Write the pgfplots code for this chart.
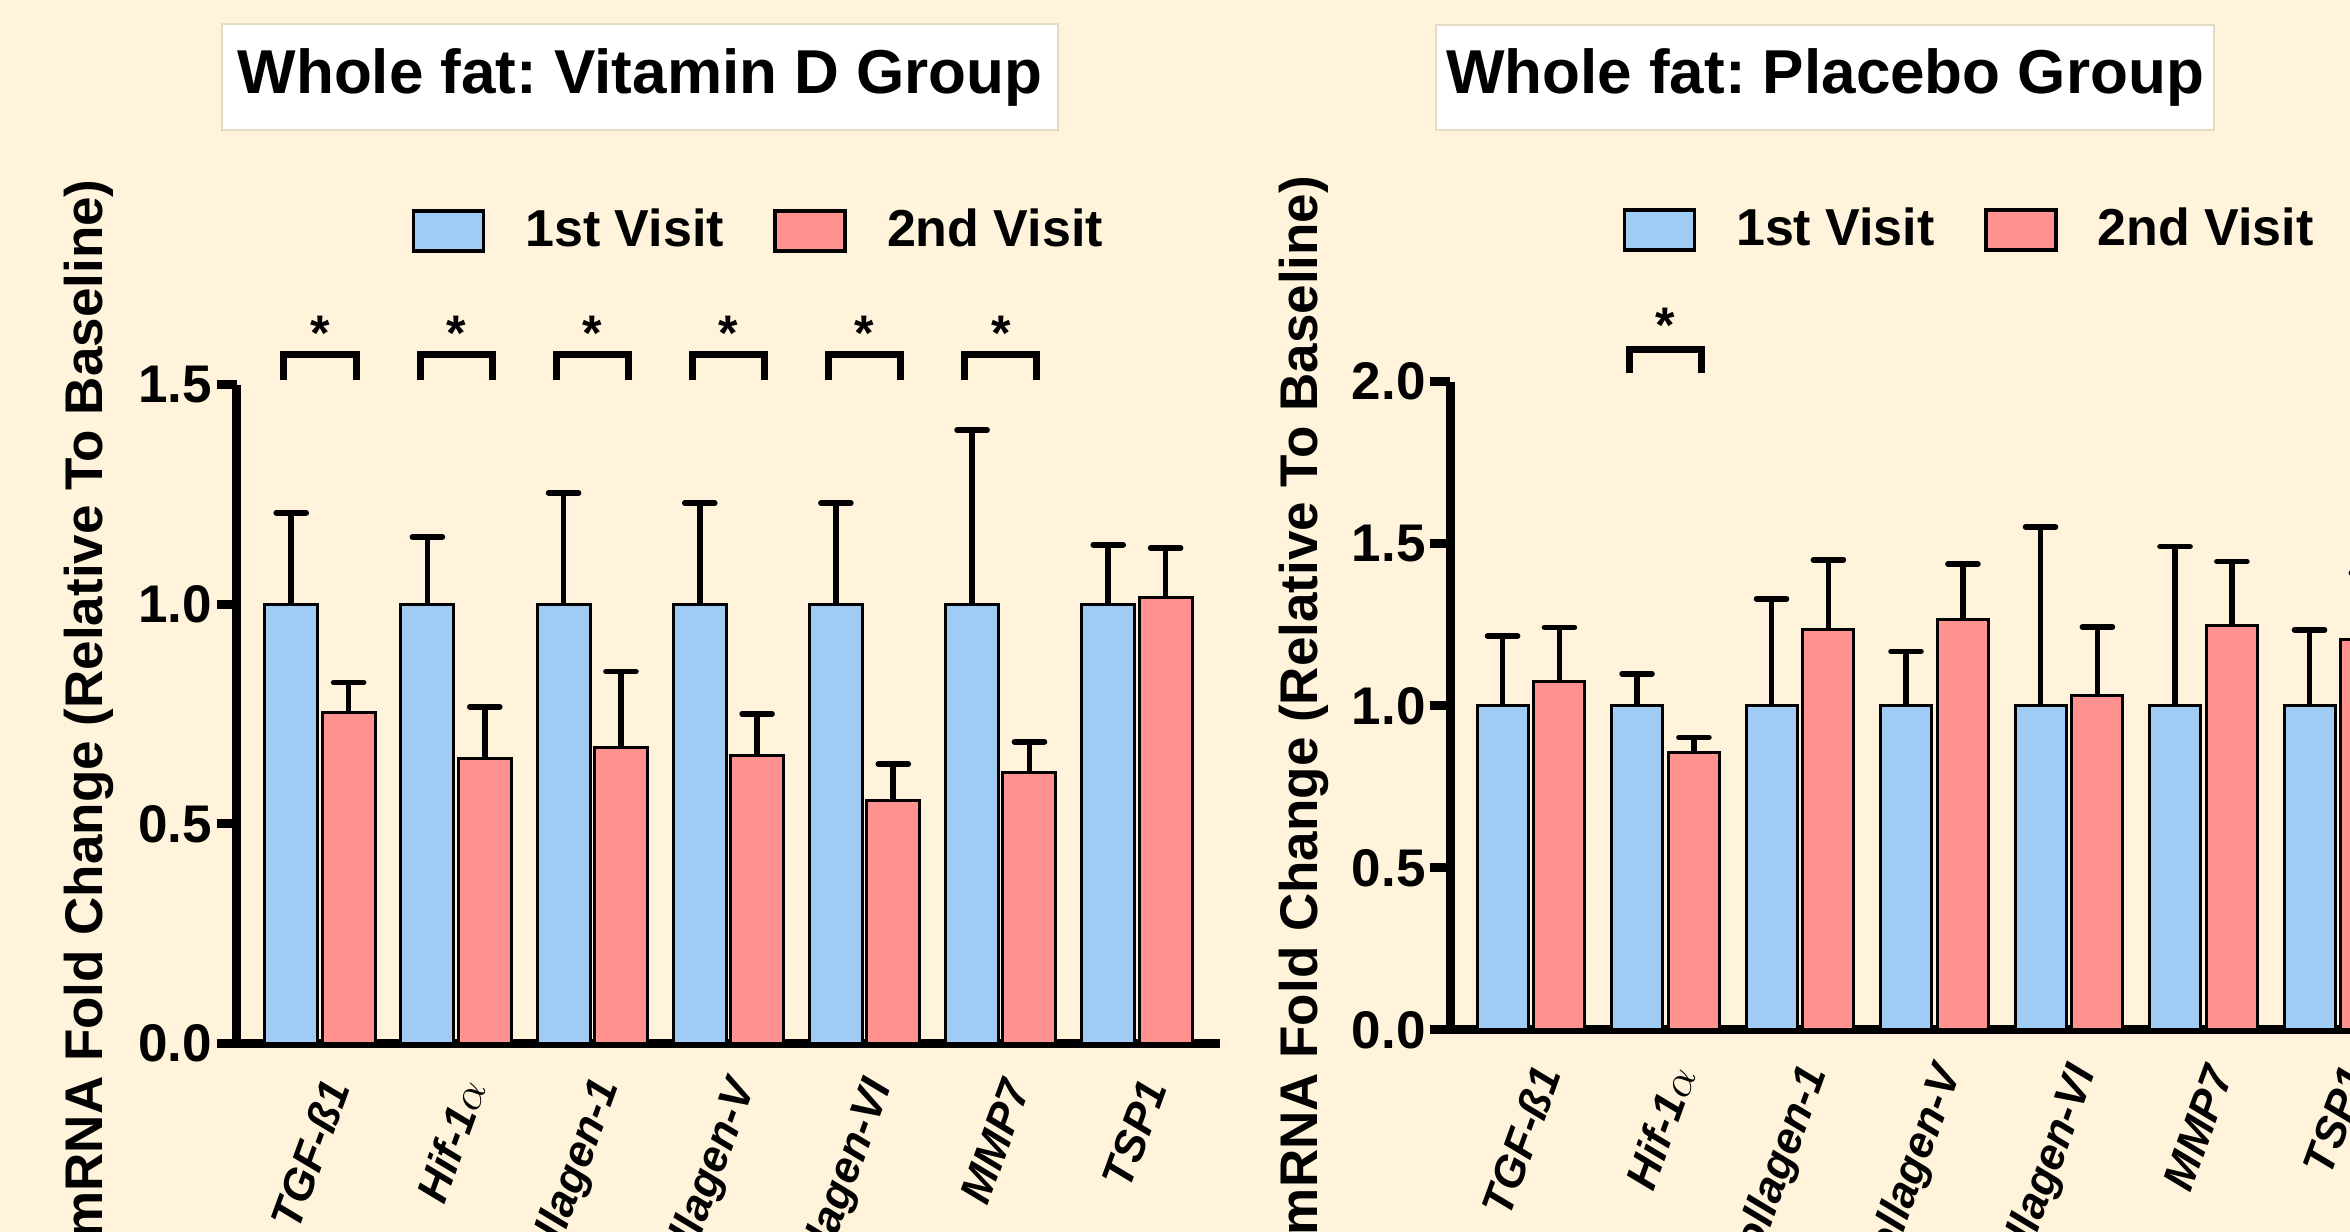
\documentclass[border=0pt]{standalone}
\usepackage{fontspec}
\setmainfont{Liberation Sans}
\usepackage{pgfplots}
\pgfplotsset{compat=1.18}
\frenchspacing
\definecolor{bg}{RGB}{255,244,219}
\definecolor{barblue}{RGB}{160,203,245}
\definecolor{barred}{RGB}{255,146,142}
\definecolor{boxedge}{RGB}{228,218,198}

\pgfplotsset{
  mystyle/.style={
    scale only axis,
    clip=false,
    axis x line*=bottom, axis y line*=left,
    axis line style={-, line width=2.25pt, black},
    every outer x axis line/.append style={-},
    every outer y axis line/.append style={-},
    ymin=0,
    xtick={0,...,6},
    xticklabels={TGF-ß1, Hif-1$\alpha$, Collagen-1, Collagen-V, Collagen-VI, MMP7, TSP1},
    x tick style={draw=none},
    y tick style={line width=2.25pt, black},
    major tick length=5pt,
    tick align=outside,
    /pgf/number format/fixed,
    /pgf/number format/fixed zerofill,
    /pgf/number format/precision=1,
    /pgf/number format/assume math mode=true,
    yticklabel style={font=\bfseries\fontsize{13.25}{15}\selectfont, inner sep=1pt},
    xticklabel style={xshift=4.5pt, yshift=-3.5pt, rotate=70, anchor=east, font=\bfseries\itshape\fontsize{11}{13}\selectfont, inner sep=1pt},
    ylabel={mRNA Fold Change (Relative To Baseline)},
    ylabel style={anchor=south, inner sep=0pt, font=\bfseries\fontsize{13.25}{15}\selectfont},
    every axis title shift=0pt,
    title style={anchor=center, fill=white, draw=boxedge, line width=0.5pt, inner sep=0pt, font=\bfseries\fontsize{15.5}{18}\selectfont},
    legend columns=2,
    legend style={draw=none, fill=none, inner sep=0pt, anchor=west,
      font=\bfseries\fontsize{13}{15}\selectfont,
      /tikz/every odd column/.append style={column sep=8pt},
      /tikz/every even column/.append style={column sep=10.4pt}},
    legend image code/.code={\draw[#1, line width=0.9pt] (0pt,-5pt) rectangle (17.5pt,5pt);},
  },
  errstyle/.style={
    error bars/.cd, y dir=plus, y explicit,
    error bar style={line width=1.4pt, black},
    error mark options={rotate=90, line width=1.4pt, mark size=3.75pt, black, line cap=round}},
}

\begin{document}
\begin{tikzpicture}
\useasboundingbox (0,0) rectangle (587.5pt,308pt);
\clip (0,0) rectangle (587.5pt,308pt);
\fill[bg] (0,0) rectangle (587.5pt,308pt);

% Left panel: Vitamin D group
\begin{axis}[mystyle,
  at={(59.25pt,47.15pt)}, anchor=south west,
  width=245.75pt, height=164.6pt,
  xmin=-0.609, xmax=6.61, ymax=1.5,
  ytick={0,0.5,1,1.5},
  ylabel style={at={(axis description cs:-0.125,0.508)}},
  title={Whole fat: Vitamin D Group},
  title style={at={(axis description cs:0.41,1.4678)}, minimum width=208.9pt, minimum height=26.7pt},
  legend style={at={(axis description cs:0.177,1.234)}},
]
\addplot[ybar, bar width=13.25pt, bar shift=0pt, fill=barblue, draw=black, line width=0.75pt, errstyle] coordinates {
  (-0.2107,1) +- (0,0.209)
  (0.7893,1) +- (0,0.154)
  (1.7893,1) +- (0,0.254)
  (2.7893,1) +- (0,0.231)
  (3.7893,1) +- (0,0.231)
  (4.7893,1) +- (0,0.397)
  (5.7893,1) +- (0,0.136)
};
\addlegendentry{1st Visit}
\addplot[ybar, bar width=13.25pt, bar shift=0pt, fill=barred, draw=black, line width=0.75pt, errstyle] coordinates {
  (0.2107,0.753) +- (0,0.069)
  (1.2107,0.649) +- (0,0.118)
  (2.2107,0.675) +- (0,0.172)
  (3.2107,0.656) +- (0,0.095)
  (4.2107,0.554) +- (0,0.082)
  (5.2107,0.617) +- (0,0.070)
  (6.2107,1.017) +- (0,0.112)
};
\addlegendentry{2nd Visit}
\pgfplotsinvokeforeach{0,...,5}{
  \draw[line width=1.75pt, black] (axis cs:#1-0.265,1.511) |- (axis cs:#1+0.265,1.570) -- (axis cs:#1+0.265,1.511);
  \node[anchor=base, inner sep=0pt, font=\bfseries\fontsize{12.5}{12.5}\selectfont] at (axis cs:#1,1.578) {*};
}
\end{axis}

% Right panel: Placebo group
\begin{axis}[mystyle,
  at={(362.575pt,50.5pt)}, anchor=south west,
  width=242.1pt, height=162.1pt,
  xmin=-0.6, xmax=6.6, ymax=2.0,
  ytick={0,0.5,1,1.5,2},
  ylabel style={at={(axis description cs:-0.125,0.5005)}},
  title={Whole fat: Placebo Group},
  title style={at={(axis description cs:0.387,1.469)}, minimum width=194.5pt, minimum height=26.2pt},
  legend style={at={(axis description cs:0.177,1.234)}},
]
\addplot[ybar, bar width=12.75pt, bar shift=0pt, fill=barblue, draw=black, line width=0.75pt, errstyle] coordinates {
  (-0.2115,1) +- (0,0.215)
  (0.7885,1) +- (0,0.099)
  (1.7885,1) +- (0,0.330)
  (2.7885,1) +- (0,0.168)
  (3.7885,1) +- (0,0.552)
  (4.7885,1) +- (0,0.491)
  (5.7885,1) +- (0,0.234)
};
\addlegendentry{1st Visit}
\addplot[ybar, bar width=12.75pt, bar shift=0pt, fill=barred, draw=black, line width=0.75pt, errstyle] coordinates {
  (0.2115,1.076) +- (0,0.166)
  (1.2115,0.857) +- (0,0.045)
  (2.2115,1.234) +- (0,0.216)
  (3.2115,1.265) +- (0,0.172)
  (4.2115,1.032) +- (0,0.211)
  (5.2115,1.248) +- (0,0.197)
  (6.2115,1.203) +- (0,0.207)
};
\addlegendentry{2nd Visit}
\draw[line width=1.75pt, black] (axis cs:1-0.266,2.027) |- (axis cs:1+0.266,2.099) -- (axis cs:1+0.266,2.027);
\node[anchor=base, inner sep=0pt, font=\bfseries\fontsize{12.5}{12.5}\selectfont] at (axis cs:1,2.12) {*};
\end{axis}
\end{tikzpicture}
\end{document}
